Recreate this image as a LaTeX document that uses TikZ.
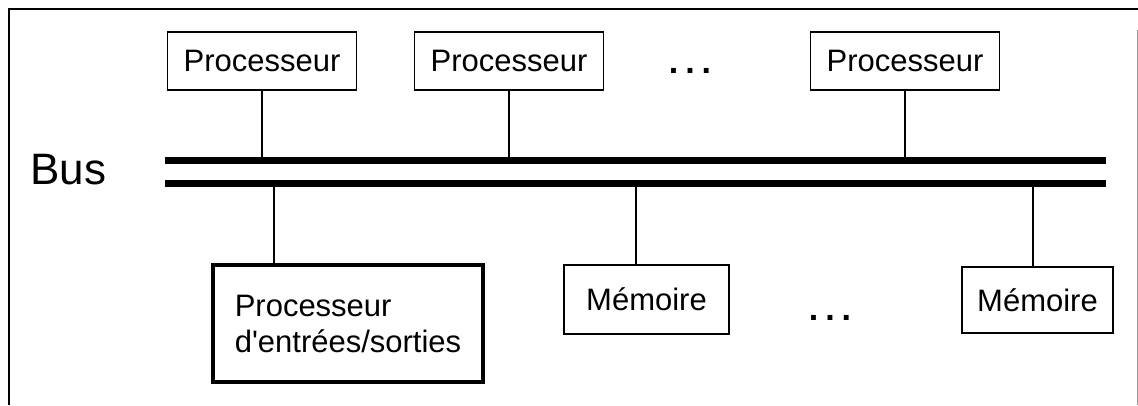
\documentclass[tikz,border=0pt]{standalone}
\usepackage{fontspec}
\setmainfont{Liberation Sans}
\begin{document}
\begin{tikzpicture}[x=1pt,y=-1pt,
  box/.style={draw, line width=1.8pt, inner sep=0pt, font=\fontsize{31}{36}\selectfont},
  busline/.style={line width=7pt},
  link/.style={line width=1.8pt},
  dots/.style={anchor=base, font=\fontsize{34}{36}\selectfont\bfseries}]
\useasboundingbox (0,0) rectangle (1138,405);
% frame
\draw[line width=1.8pt] (9,405) -- (9,9) -- (1138,9);
\draw[line width=0.8pt, black!40] (1137,30) -- (1137,405);
% bus
\node[font=\fontsize{44}{48}\selectfont, anchor=west, inner sep=0pt] (bus) at (30,170) {Bus};
\coordinate (b1w) at (165,160);
\coordinate (b1e) at (1106,160);
\coordinate (b2w) at (165,183);
\coordinate (b2e) at (1106,183);
\draw[busline] (b1w) -- (b1e);
\draw[busline] (b2w) -- (b2e);
% processors
\node[box, minimum width=189pt, minimum height=58pt] (p1) at (262,61) {Processeur};
\node[box, minimum width=189pt, minimum height=58pt] (p2) at (509,61) {Processeur};
\node[box, minimum width=189pt, minimum height=58pt] (p3) at (905,61) {Processeur};
\node[dots] (d1) at (690,73) {.\hspace{7pt}.\hspace{7pt}.};
\draw[link] (p1.south) -- (p1.south |- b1w);
\draw[link] (p2.south) -- (p2.south |- b1w);
\draw[link] (p3.south) -- (p3.south |- b1w);
% bottom
\node[box, line width=4.5pt, minimum width=270pt, minimum height=117pt, align=left] (io) at (348,323.5) {Processeur\\d\textquotesingle entrées/sorties};
\node[box, minimum width=165pt, minimum height=69pt] (m1) at (646.5,299.5) {Mémoire};
\node[box, minimum width=151pt, minimum height=66pt] (m2) at (1037.5,300) {Mémoire};
\node[dots] (d2) at (830,320) {.\hspace{7pt}.\hspace{7pt}.};
\coordinate (c1) at (274,183);
\coordinate (c2) at (636,183);
\coordinate (c3) at (1033,183);
\draw[link] (c1) -- (c1 |- io.north);
\draw[link] (c2) -- (c2 |- m1.north);
\draw[link] (c3) -- (c3 |- m2.north);
\end{tikzpicture}
\end{document}
